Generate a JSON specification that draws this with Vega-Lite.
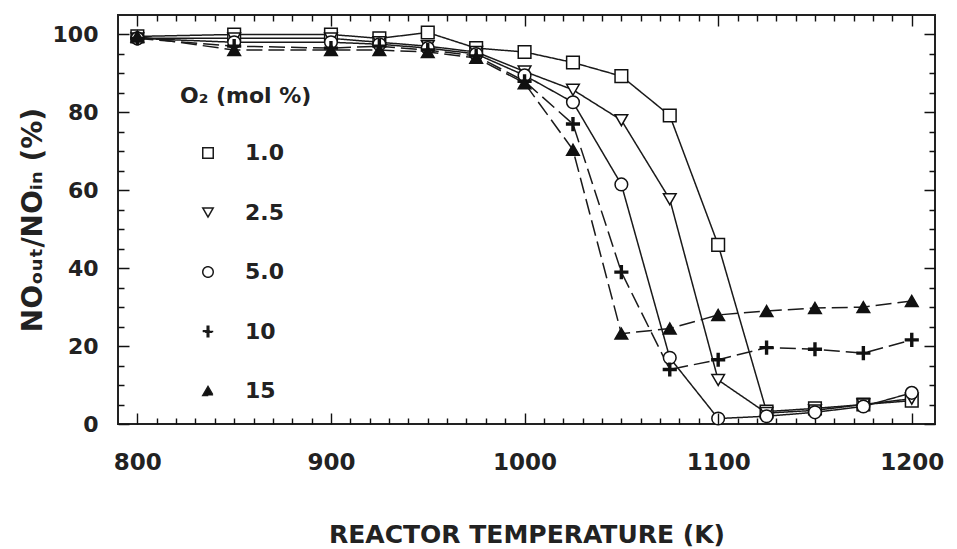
{
  "$schema": "https://vega.github.io/schema/vega-lite/v6.json",
  "width": 817,
  "height": 409,
  "autosize": "none",
  "padding": {"left": 118, "top": 15, "right": 22, "bottom": 125},
  "background": "white",
  "config": {
    "view": {"stroke": "#222", "strokeWidth": 2},
    "axis": {"domain": false, "ticks": false, "gridColor": "#111", "gridWidth": 1.4, "gridOpacity": 1, "zindex": 1}
  },
  "data": {"values": [
    {"T": 800, "o2": "1.0", "v": 99.5}, {"T": 850, "o2": "1.0", "v": 100}, {"T": 900, "o2": "1.0", "v": 100}, {"T": 925, "o2": "1.0", "v": 99}, {"T": 950, "o2": "1.0", "v": 100.5}, {"T": 975, "o2": "1.0", "v": 96.5}, {"T": 1000, "o2": "1.0", "v": 95.5}, {"T": 1025, "o2": "1.0", "v": 92.8}, {"T": 1050, "o2": "1.0", "v": 89.3}, {"T": 1075, "o2": "1.0", "v": 79.2}, {"T": 1100, "o2": "1.0", "v": 46}, {"T": 1125, "o2": "1.0", "v": 3.2}, {"T": 1150, "o2": "1.0", "v": 4}, {"T": 1175, "o2": "1.0", "v": 5}, {"T": 1200, "o2": "1.0", "v": 6},
    {"T": 800, "o2": "2.5", "v": 99}, {"T": 850, "o2": "2.5", "v": 99}, {"T": 900, "o2": "2.5", "v": 99}, {"T": 925, "o2": "2.5", "v": 98}, {"T": 950, "o2": "2.5", "v": 97}, {"T": 975, "o2": "2.5", "v": 95.5}, {"T": 1000, "o2": "2.5", "v": 90.5}, {"T": 1025, "o2": "2.5", "v": 85.8}, {"T": 1050, "o2": "2.5", "v": 78}, {"T": 1075, "o2": "2.5", "v": 57.7}, {"T": 1100, "o2": "2.5", "v": 11.3}, {"T": 1125, "o2": "2.5", "v": 2.8}, {"T": 1150, "o2": "2.5", "v": 3.5}, {"T": 1175, "o2": "2.5", "v": 5}, {"T": 1200, "o2": "2.5", "v": 6.5},
    {"T": 800, "o2": "5.0", "v": 99}, {"T": 850, "o2": "5.0", "v": 98}, {"T": 900, "o2": "5.0", "v": 98}, {"T": 925, "o2": "5.0", "v": 97.5}, {"T": 950, "o2": "5.0", "v": 96.5}, {"T": 975, "o2": "5.0", "v": 95}, {"T": 1000, "o2": "5.0", "v": 89.5}, {"T": 1025, "o2": "5.0", "v": 82.6}, {"T": 1050, "o2": "5.0", "v": 61.5}, {"T": 1075, "o2": "5.0", "v": 17}, {"T": 1100, "o2": "5.0", "v": 1.4}, {"T": 1125, "o2": "5.0", "v": 2}, {"T": 1150, "o2": "5.0", "v": 3}, {"T": 1175, "o2": "5.0", "v": 4.5}, {"T": 1200, "o2": "5.0", "v": 8},
    {"T": 800, "o2": "10", "v": 99}, {"T": 850, "o2": "10", "v": 97}, {"T": 900, "o2": "10", "v": 96.5}, {"T": 925, "o2": "10", "v": 97}, {"T": 950, "o2": "10", "v": 96}, {"T": 975, "o2": "10", "v": 94.5}, {"T": 1000, "o2": "10", "v": 88}, {"T": 1025, "o2": "10", "v": 77}, {"T": 1050, "o2": "10", "v": 39}, {"T": 1075, "o2": "10", "v": 14}, {"T": 1100, "o2": "10", "v": 16.5}, {"T": 1125, "o2": "10", "v": 19.6}, {"T": 1150, "o2": "10", "v": 19.2}, {"T": 1175, "o2": "10", "v": 18.2}, {"T": 1200, "o2": "10", "v": 21.6},
    {"T": 800, "o2": "15", "v": 99.5}, {"T": 850, "o2": "15", "v": 96}, {"T": 900, "o2": "15", "v": 96}, {"T": 925, "o2": "15", "v": 96}, {"T": 950, "o2": "15", "v": 95.5}, {"T": 975, "o2": "15", "v": 94}, {"T": 1000, "o2": "15", "v": 87.5}, {"T": 1025, "o2": "15", "v": 70.4}, {"T": 1050, "o2": "15", "v": 23.2}, {"T": 1075, "o2": "15", "v": 24.5}, {"T": 1100, "o2": "15", "v": 28}, {"T": 1125, "o2": "15", "v": 29}, {"T": 1150, "o2": "15", "v": 29.8}, {"T": 1175, "o2": "15", "v": 30}, {"T": 1200, "o2": "15", "v": 31.6}
  ]},
  "resolve": {"axis": {"x": "independent", "y": "independent"}},
  "layer": [
    {
      "mark": {"type": "line", "color": "#1a1a1a", "strokeWidth": 1.5},
      "encoding": {
        "x": {"field": "T", "type": "quantitative", "scale": {"domain": [790, 1212], "nice": false, "zero": false},
          "axis": {"orient": "bottom", "values": [800, 900, 1000, 1100, 1200], "format": "d", "zindex": 1,
            "grid": true, "gridDash": [11, 387, 11, 2000],
            "labelFont": "DejaVu Sans", "labelFontWeight": "bold", "labelFontSize": 23, "labelColor": "#222",
            "labelPadding": 27, "labelOverlap": false, "labelFlush": false,
            "title": "REACTOR TEMPERATURE (K)", "titleFont": "DejaVu Sans", "titleFontWeight": "bold", "titleFontSize": 25, "titleColor": "#222", "titlePadding": 48}},
        "y": {"field": "v", "type": "quantitative", "scale": {"domain": [0, 105], "nice": false},
          "axis": {"orient": "left", "values": [0, 20, 40, 60, 80, 100], "zindex": 1,
            "grid": true, "gridDash": [11, 795, 11, 3000],
            "labelFont": "DejaVu Sans", "labelFontWeight": "bold", "labelFontSize": 22, "labelColor": "#222",
            "labelPadding": 20, "labelOverlap": false, "labelFlush": false,
            "title": "NOₒᵤₜ/NOᵢₙ (%)", "titleFont": "DejaVu Sans", "titleFontWeight": "bold", "titleFontSize": 28, "titleColor": "#222", "titlePadding": 5}},
        "strokeDash": {"field": "o2", "type": "nominal", "scale": {"domain": ["1.0", "2.5", "5.0", "10", "15"], "range": [[1, 0], [1, 0], [1, 0], [16, 6], [16, 6]]}}
      }
    },
    {
      "mark": {"type": "point", "filled": true, "stroke": "#111", "strokeWidth": 1.5, "size": 160, "opacity": 1},
      "encoding": {
        "x": {"field": "T", "type": "quantitative",
          "axis": {"orient": "top", "labels": false, "title": null, "zindex": 1, "grid": true, "gridDash": [6, 397, 6, 2000],
            "values": [810,820,830,840,850,860,870,880,890,910,920,930,940,950,960,970,980,990,1010,1020,1030,1040,1050,1060,1070,1080,1090,1110,1120,1130,1140,1150,1160,1170,1180,1190]}},
        "y": {"field": "v", "type": "quantitative",
          "axis": {"orient": "right", "labels": false, "title": null, "zindex": 1, "grid": true, "gridDash": [6, 805, 6, 3000],
            "values": [5,10,15,25,30,35,45,50,55,65,70,75,85,90,95]}},
        "shape": {"field": "o2", "type": "nominal",
          "scale": {"domain": ["1.0", "2.5", "5.0", "10", "15"], "range": ["square", "triangle-down", "circle", "M-1,-0.15H-0.15V-1H0.15V-0.15H1V0.15H0.15V1H-0.15V0.15H-1Z", "triangle-up"]},
          "legend": {
            "title": "O₂ (mol %)", "orient": "none", "legendX": 62, "legendY": 71, "padding": 0,
            "titleFont": "DejaVu Sans", "titleFontSize": 22, "titleFontWeight": "bold", "titleColor": "#222", "titlePadding": 34,
            "labelFont": "DejaVu Sans", "labelFontSize": 22, "labelFontWeight": "bold", "labelColor": "#222",
            "symbolSize": 110, "symbolStrokeWidth": 1.5, "symbolStrokeColor": "#111", "symbolDash": [1, 0],
            "symbolOffset": 17, "rowPadding": 37.5, "labelOffset": 26
          }},
        "fill": {"field": "o2", "type": "nominal", "scale": {"domain": ["1.0", "2.5", "5.0", "10", "15"], "range": ["white", "white", "white", "#111", "#111"]}}
      }
    }
  ]
}
